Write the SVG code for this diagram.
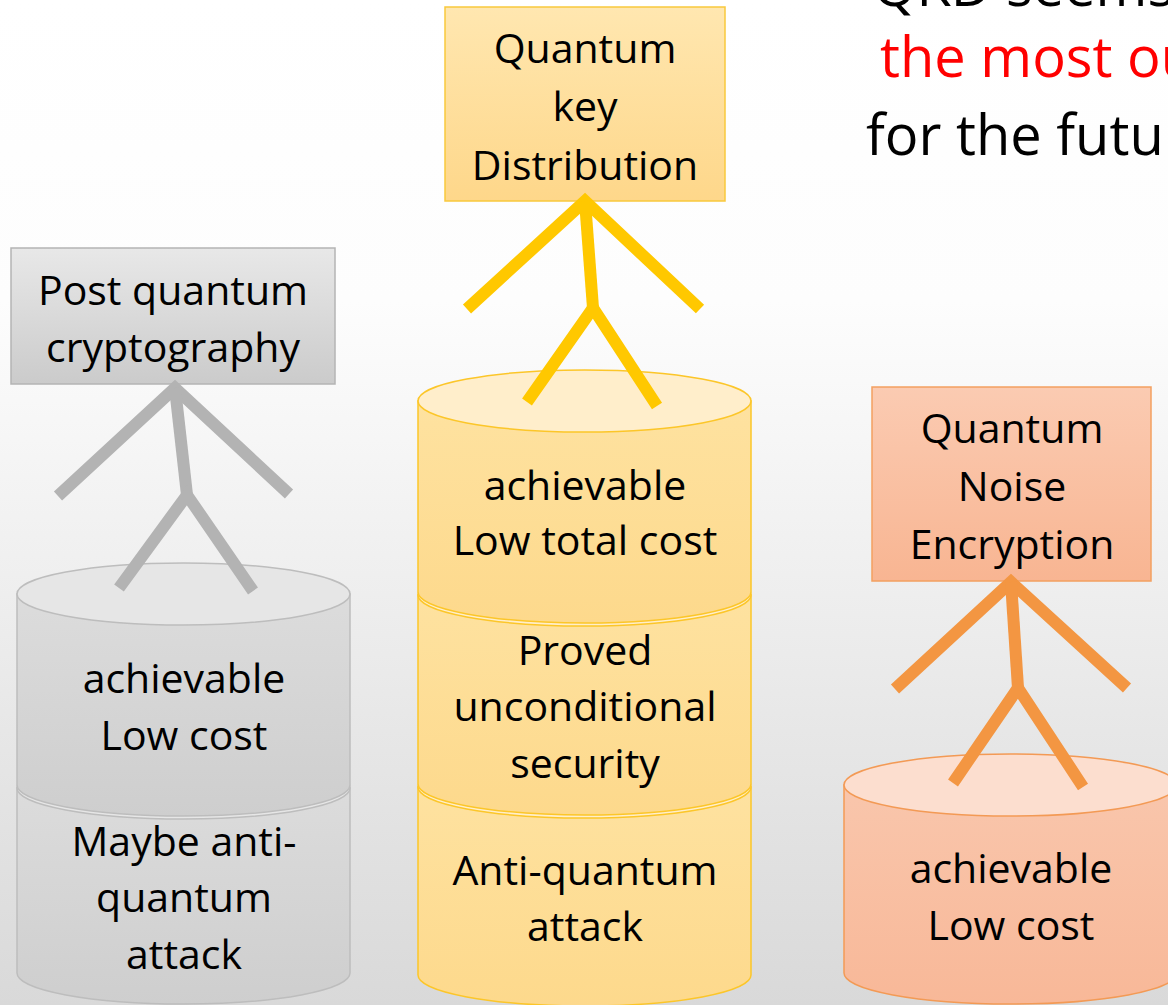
<svg xmlns="http://www.w3.org/2000/svg" width="1168" height="1005" viewBox="0 0 1168 1005">
  <defs>
    <linearGradient id="bg" x1="0" y1="0" x2="0" y2="1">
      <stop offset="0" stop-color="#ffffff"/>
      <stop offset="0.3" stop-color="#fdfdfd"/>
      <stop offset="1" stop-color="#d9d9d9"/>
    </linearGradient>
    <linearGradient id="grayBox" x1="0" y1="0" x2="0" y2="1">
      <stop offset="0" stop-color="#e8e8e8"/>
      <stop offset="1" stop-color="#cbcbcb"/>
    </linearGradient>
    <linearGradient id="yellowBox" x1="0" y1="0" x2="0" y2="1">
      <stop offset="0" stop-color="#ffe7b0"/>
      <stop offset="1" stop-color="#fed78a"/>
    </linearGradient>
    <linearGradient id="orangeBox" x1="0" y1="0" x2="0" y2="1">
      <stop offset="0" stop-color="#fbcbb2"/>
      <stop offset="1" stop-color="#f8b592"/>
    </linearGradient>
    <linearGradient id="grayBody" x1="0" y1="0" x2="0" y2="1">
      <stop offset="0" stop-color="#dcdcdc"/>
      <stop offset="1" stop-color="#cecece"/>
    </linearGradient>
    <linearGradient id="yellowBody" x1="0" y1="0" x2="0" y2="1">
      <stop offset="0" stop-color="#fee2a0"/>
      <stop offset="1" stop-color="#fdd98c"/>
    </linearGradient>
    <linearGradient id="orangeBody" x1="0" y1="0" x2="0" y2="1">
      <stop offset="0" stop-color="#f9c6ac"/>
      <stop offset="1" stop-color="#f8b898"/>
    </linearGradient>
  </defs>
  <style>
    .t { font-family: "Open Sans", "Noto Sans", sans-serif; font-size: 41px; fill: #000; text-anchor: middle; }
    .title { font-family: "Open Sans", "Noto Sans", sans-serif; font-size: 56px; }
    .gray-box { fill: url(#grayBox); stroke: #b4b4b4; stroke-width: 1.5; }
    .yellow-box { fill: url(#yellowBox); stroke: #f9c93c; stroke-width: 1.5; }
    .orange-box { fill: url(#orangeBox); stroke: #f3a060; stroke-width: 1.5; }
    .gray-body { fill: url(#grayBody); stroke: #bdbdbd; stroke-width: 1.5; }
    .gray-top { fill: #e6e6e6; stroke: #bdbdbd; stroke-width: 1.5; }
    .yellow-body { fill: url(#yellowBody); stroke: #fcc629; stroke-width: 1.5; }
    .yellow-top { fill: #ffeecb; stroke: #fcc629; stroke-width: 1.5; }
    .orange-body { fill: url(#orangeBody); stroke: #f39a55; stroke-width: 1.5; }
    .orange-top { fill: #fcdecf; stroke: #f39a55; stroke-width: 1.5; }
    .stick { fill: none; stroke-width: 12; stroke-linecap: butt; stroke-linejoin: miter; }
    .stick-gray { stroke: #b3b3b3; }
    .stick-yellow { stroke: #ffc800; }
    .stick-orange { stroke: #f39642; }
  </style>

  <rect x="0" y="0" width="1168" height="1005" fill="url(#bg)"/>

  <!-- heading, partly outside the frame -->
  <g id="heading">
    <text class="title" x="873" y="6" fill="#000">QKD seems</text>
    <text class="title" x="880" y="77" fill="#ff0000">the most ou</text>
    <text class="title" x="866" y="155" fill="#000">for the futu</text>
  </g>

  <!-- gray stack: post quantum cryptography -->
  <g id="pqc-cylinder">
    <path class="gray-body" d="M17,788 V973 A166.5,31 0 0 0 350,973 V788 Z"/>
    <ellipse class="gray-top" cx="183.5" cy="788" rx="166.5" ry="31"/>
    <path class="gray-body" d="M17,594 V785 A166.5,31 0 0 0 350,785 V594 Z"/>
    <ellipse class="gray-top" cx="183.5" cy="594" rx="166.5" ry="31"/>
    <text class="t" x="184" y="693">achievable</text>
    <text class="t" x="184" y="750">Low cost</text>
    <text class="t" x="184" y="856">Maybe anti-</text>
    <text class="t" x="184" y="912">quantum</text>
    <text class="t" x="184" y="969">attack</text>
  </g>
  <g id="pqc-box">
    <rect class="gray-box" x="11" y="248" width="324" height="136"/>
    <text class="t" x="173" y="305">Post quantum</text>
    <text class="t" x="173" y="362">cryptography</text>
  </g>

  <!-- yellow stack: quantum key distribution -->
  <g id="qkd-cylinder">
    <path class="yellow-body" d="M418,787 V975 A166.5,31 0 0 0 751,975 V787 Z"/>
    <ellipse class="yellow-top" cx="584.5" cy="787" rx="166.5" ry="31"/>
    <path class="yellow-body" d="M418,595 V784 A166.5,31 0 0 0 751,784 V595 Z"/>
    <ellipse class="yellow-top" cx="584.5" cy="595" rx="166.5" ry="31"/>
    <path class="yellow-body" d="M418,401 V592 A166.5,31 0 0 0 751,592 V401 Z"/>
    <ellipse class="yellow-top" cx="584.5" cy="401" rx="166.5" ry="31"/>
    <text class="t" x="585" y="500">achievable</text>
    <text class="t" x="585" y="555">Low total cost</text>
    <text class="t" x="585" y="665">Proved</text>
    <text class="t" x="585" y="721">unconditional</text>
    <text class="t" x="585" y="778">security</text>
    <text class="t" x="585" y="885">Anti-quantum</text>
    <text class="t" x="585" y="941">attack</text>
  </g>
  <g id="qkd-box">
    <rect class="yellow-box" x="445" y="7" width="280" height="194"/>
    <text class="t" x="585" y="63">Quantum</text>
    <text class="t" x="585" y="121">key</text>
    <text class="t" x="585" y="180">Distribution</text>
  </g>

  <!-- orange stack: quantum noise encryption -->
  <g id="qne-cylinder">
    <path class="orange-body" d="M844,785 V973 A166.5,31 0 0 0 1177,973 V785 Z"/>
    <ellipse class="orange-top" cx="1010.5" cy="785" rx="166.5" ry="31"/>
    <text class="t" x="1011" y="883">achievable</text>
    <text class="t" x="1011" y="940">Low cost</text>
  </g>
  <g id="qne-box">
    <rect class="orange-box" x="872" y="387" width="279" height="194"/>
    <text class="t" x="1012" y="443">Quantum</text>
    <text class="t" x="1012" y="501">Noise</text>
    <text class="t" x="1012" y="559">Encryption</text>
  </g>

  <!-- stick-figure links between each box and its stack -->
  <g id="connectors">
    <polyline class="stick stick-gray" points="58,496 175,388 289,494"/>
    <polyline class="stick stick-gray" points="175,388 187,495"/>
    <polyline class="stick stick-gray" points="119,588 187,495 253,591"/>

    <polyline class="stick stick-yellow" points="467,309 585,201 700,309"/>
    <polyline class="stick stick-yellow" points="585,201 593,308"/>
    <polyline class="stick stick-yellow" points="527,402 593,308 657,406"/>

    <polyline class="stick stick-orange" points="895,689 1011,582 1127,688"/>
    <polyline class="stick stick-orange" points="1011,582 1018,688"/>
    <polyline class="stick stick-orange" points="953,783 1018,688 1083,787"/>
  </g>
</svg>
